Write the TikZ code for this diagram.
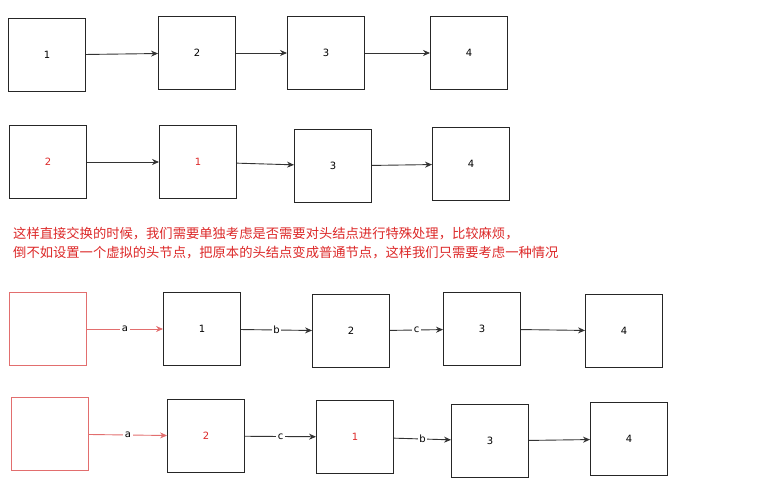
\documentclass[tikz,border=0pt]{standalone}
\usepackage{fontspec}
\usetikzlibrary{arrows.meta}
\newfontfamily\cjk{Noto Sans CJK SC}
\setmainfont{DejaVu Sans}
\definecolor{hred}{RGB}{220,40,40}
\definecolor{pink}{RGB}{226,110,110}
\begin{document}
\begin{tikzpicture}[x=1pt,y=-1pt,
  box/.style={draw=black!85,line width=0.9pt,minimum width=77pt,minimum height=73pt,inner sep=0pt,font=\normalsize},
  dummy/.style={box,draw=pink},
  link/.style={-{Stealth[length=7pt,width=6pt]},line width=0.9pt,black!80},
  red link/.style={link,pink},
  tag/.style={fill=white,inner sep=1.5pt,font=\normalsize,text=black}]
\useasboundingbox (0,0) rectangle (782,489);
% first row
\node[box] (a1) at (47,55) {1};
\node[box] (a2) at (197,53) {2};
\node[box] (a3) at (326,53) {3};
\node[box] (a4) at (469,53) {4};
\draw[link] (a1) -- (a2);
\draw[link] (a2) -- (a3);
\draw[link] (a3) -- (a4);
% second row, swapped
\node[box,text=hred] (b1) at (48,162) {2};
\node[box,text=hred] (b2) at (198,162) {1};
\node[box] (b3) at (333,166) {3};
\node[box] (b4) at (471,164) {4};
\draw[link] (b1) -- (b2);
\draw[link] (b2) -- (b3);
\draw[link] (b3) -- (b4);
% note
\node[anchor=west,text=hred,font=\cjk\fontsize{13.3}{19}\selectfont,align=left,inner sep=0pt] (note) at (13,243)
  {这样直接交换的时候，我们需要单独考虑是否需要对头结点进行特殊处理，比较麻烦，\\
   倒不如设置一个虚拟的头节点，把原本的头结点变成普通节点，这样我们只需要考虑一种情况};
% third row, dummy head
\node[dummy] (c0) at (48,329) {};
\node[box] (c1) at (202,329) {1};
\node[box] (c2) at (351,331) {2};
\node[box] (c3) at (482,329) {3};
\node[box] (c4) at (624,331) {4};
\draw[red link] (c0) -- node[tag]{a} (c1);
\draw[link] (c1) -- node[tag]{b} (c2);
\draw[link] (c2) -- node[tag]{c} (c3);
\draw[link] (c3) -- (c4);
% fourth row, after swap
\node[dummy] (d0) at (50,434) {};
\node[box,text=hred] (d1) at (206,436) {2};
\node[box,text=hred] (d2) at (355,437) {1};
\node[box] (d3) at (490,441) {3};
\node[box] (d4) at (629,439) {4};
\draw[red link] (d0) -- node[tag]{a} (d1);
\draw[link] (d1) -- node[tag]{c} (d2);
\draw[link] (d2) -- node[tag]{b} (d3);
\draw[link] (d3) -- (d4);
\end{tikzpicture}
\end{document}
